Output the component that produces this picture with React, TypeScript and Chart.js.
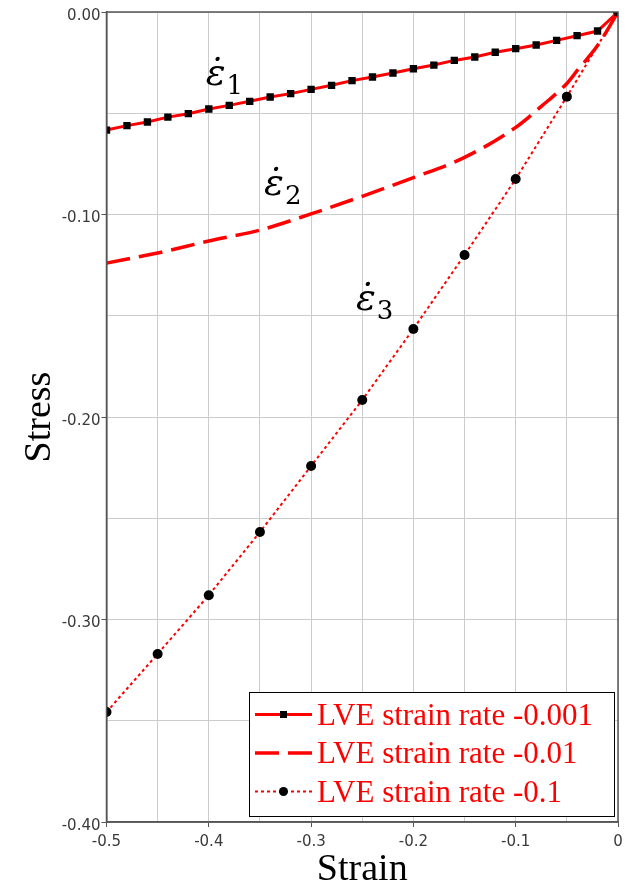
import React, { useEffect, useRef } from 'react';
import { Chart, registerables } from 'chart.js';

Chart.register(...registerables);

// LVE response, strain rate -0.001
const strainSlow = [
  -0.5, -0.48, -0.46, -0.44, -0.42, -0.4, -0.38, -0.36, -0.34, -0.32, -0.3, -0.28, -0.26,
  -0.24, -0.22, -0.2, -0.18, -0.16, -0.14, -0.12, -0.1, -0.08, -0.06, -0.04, -0.02, 0,
];
const stressSlow = [
  -0.0583, -0.0561, -0.0543, -0.0519, -0.0502, -0.0479, -0.0461, -0.0441, -0.042, -0.0403,
  -0.0382, -0.0362, -0.0339, -0.0321, -0.0301, -0.028, -0.0262, -0.0239, -0.0222, -0.0199,
  -0.0181, -0.0163, -0.014, -0.0117, -0.0094, 0,
];

// LVE response, strain rate -0.01
const strainMid = [-0.5, -0.45, -0.4, -0.35, -0.3, -0.25, -0.2, -0.15, -0.1, -0.075, -0.05, -0.04, -0.02, 0];
const stressMid = [
  -0.124, -0.119, -0.1131, -0.1077, -0.0997, -0.091, -0.0818, -0.0718, -0.057, -0.0466,
  -0.0353, -0.029, -0.0166, 0,
];

// LVE response, strain rate -0.1
const strainFast = [-0.5, -0.45, -0.4, -0.35, -0.3, -0.25, -0.2, -0.15, -0.1, -0.05, 0];
const stressFast = [-0.3457, -0.317, -0.288, -0.2568, -0.2242, -0.1916, -0.1565, -0.12, -0.0825, -0.0418, 0];

const seriesLabels = ['LVE strain rate -0.001', 'LVE strain rate -0.01', 'LVE strain rate -0.1'];

// Curve annotations: strain-rate symbols placed next to each curve
const rateSubscripts = ['1', '2', '3'];
const rateLabelStrain = [-0.403, -0.346, -0.2561];
const rateLabelStress = [-0.036, -0.0904, -0.1472];

const xTickStep = 0.05;
const yTickStep = 0.05;

const RED = '#ff0000';
const FRAME = '#555555';

const isMajor = (v: number) => Math.abs(Math.round(v * 10) - v * 10) < 1e-6;

const toPoints = (xs: number[], ys: number[]) => xs.map((x, i) => ({ x, y: ys[i] }));

const decorations = {
  id: 'decorations',
  afterDatasetsDraw(chart: any) {
    const { ctx, scales } = chart;
    const xs = scales.x;
    const ys = scales.y;
    ctx.save();
    ctx.fillStyle = '#000';
    ctx.textAlign = 'left';
    ctx.textBaseline = 'alphabetic';
    rateSubscripts.forEach((sub, i) => {
      const px = xs.getPixelForValue(rateLabelStrain[i]);
      const py = ys.getPixelForValue(rateLabelStress[i]);
      ctx.font = 'italic 37px "DejaVu Serif"';
      ctx.fillText('\u03B5\u0307', px, py);
      const w = ctx.measureText('\u03B5').width;
      ctx.font = '26px "DejaVu Serif"';
      ctx.fillText(sub, px + w + 1, py + 9);
    });
    ctx.restore();
  },
  afterDraw(chart: any) {
    const { ctx, chartArea } = chart;
    const { left, right, top, bottom } = chartArea;
    ctx.save();

    // plot frame
    ctx.strokeStyle = FRAME;
    ctx.lineWidth = 1.5;
    ctx.strokeRect(left, top, right - left, bottom - top);

    // axis titles
    ctx.fillStyle = '#000';
    ctx.font = '38px "Liberation Serif"';
    ctx.textAlign = 'center';
    ctx.textBaseline = 'alphabetic';
    ctx.fillText('Strain', (left + right) / 2, 880);
    ctx.save();
    ctx.translate(50, (top + bottom) / 2);
    ctx.rotate(-Math.PI / 2);
    ctx.fillText('Stress', 0, 0);
    ctx.restore();

    // clipped neighbouring tick label at the far left
    ctx.fillStyle = '#3a3a3a';
    ctx.font = '15px "DejaVu Sans"';
    ctx.textAlign = 'right';
    ctx.textBaseline = 'middle';
    ctx.fillText('0', 3.5, 839);

    // legend
    const bx = 249.5;
    const by = 692.5;
    const bw = 365;
    const bh = 124;
    ctx.fillStyle = '#fff';
    ctx.fillRect(bx, by, bw, bh);
    ctx.strokeStyle = '#000';
    ctx.lineWidth = 1;
    ctx.strokeRect(bx, by, bw, bh);
    const rowY = [714.5, 753, 791.5];
    const x0 = 255;
    const x1 = 312;
    chart.data.datasets.forEach((ds: any, i: number) => {
      const y = rowY[i];
      ctx.save();
      ctx.strokeStyle = ds.borderColor;
      ctx.lineWidth = ds.borderWidth;
      ctx.setLineDash(ds.borderDash || []);
      ctx.beginPath();
      ctx.moveTo(x0, y);
      ctx.lineTo(x1, y);
      ctx.stroke();
      ctx.restore();
      if (ds.pointRadius > 0) {
        ctx.fillStyle = ds.pointBackgroundColor;
        const cx = (x0 + x1) / 2;
        if (ds.pointStyle === 'rect') {
          const s = 7;
          ctx.fillRect(cx - s / 2, y - s / 2, s, s);
        } else {
          ctx.beginPath();
          ctx.arc(cx, y, 4.5, 0, Math.PI * 2);
          ctx.fill();
        }
      }
      ctx.fillStyle = RED;
      ctx.font = '31px "Liberation Serif"';
      ctx.textAlign = 'left';
      ctx.textBaseline = 'alphabetic';
      ctx.fillText(ds.label, 317, y + 10);
    });

    ctx.restore();
  },
};

export default function App() {
  const canvasRef = useRef<HTMLCanvasElement | null>(null);

  useEffect(() => {
    const canvas = canvasRef.current;
    if (!canvas) return;
    const chart = new Chart(canvas, {
      type: 'line',
      data: {
        datasets: [
          {
            label: seriesLabels[0],
            data: toPoints(strainSlow, stressSlow),
            borderColor: RED,
            borderWidth: 3,
            pointStyle: 'rect',
            pointRadius: 5.2,
            pointBorderWidth: 0,
            pointBackgroundColor: '#000',
            pointBorderColor: '#000',
            clip: 0,
          },
          {
            label: seriesLabels[1],
            data: toPoints(strainMid, stressMid),
            borderColor: RED,
            borderWidth: 3.5,
            borderDash: [24, 9],
            pointRadius: 0,
            cubicInterpolationMode: 'monotone',
            clip: 0,
          },
          {
            label: seriesLabels[2],
            data: toPoints(strainFast, stressFast),
            borderColor: RED,
            borderWidth: 2,
            borderDash: [3, 3],
            pointStyle: 'circle',
            pointRadius: 5,
            pointBorderWidth: 0,
            pointBackgroundColor: '#000',
            pointBorderColor: '#000',
            clip: 0,
          },
        ] as any,
      },
      options: {
        animation: false,
        responsive: false,
        devicePixelRatio: 1,
        layout: { padding: { top: 12, right: 15, left: 0, bottom: 0 } },
        plugins: { legend: { display: false }, tooltip: { enabled: false } },
        elements: { line: { tension: 0 } },
        scales: {
          x: {
            type: 'linear',
            min: -0.5,
            max: 0,
            afterFit: (s: any) => {
              s.height = 66;
            },
            ticks: {
              stepSize: xTickStep,
              autoSkip: false,
              maxRotation: 0,
              padding: 6,
              color: '#3a3a3a',
              font: { family: '"DejaVu Sans"', size: 15 },
              callback: (v: any) => {
                const n = Number(v);
                if (!isMajor(n)) return '';
                if (Math.abs(n) < 1e-9) return '0';
                return n.toFixed(1);
              },
            },
            grid: {
              color: '#cccccc',
              lineWidth: 1,
              tickLength: 5,
              tickColor: (c: any) => (c.tick && isMajor(c.tick.value) ? FRAME : 'rgba(0,0,0,0)'),
            },
            border: { display: true, color: FRAME, width: 1.5 },
          },
          y: {
            type: 'linear',
            min: -0.4,
            max: 0,
            afterFit: (s: any) => {
              s.width = 106.5;
            },
            ticks: {
              stepSize: yTickStep,
              autoSkip: false,
              padding: 1,
              labelOffset: 4,
              color: '#3a3a3a',
              font: { family: '"DejaVu Sans"', size: 15 },
              callback: (v: any) => {
                const n = Number(v);
                if (!isMajor(n)) return '';
                if (Math.abs(n) < 1e-9) return '0.00';
                return n.toFixed(2);
              },
            },
            grid: {
              color: '#cccccc',
              lineWidth: 1,
              tickLength: 5,
              tickColor: (c: any) => (c.tick && isMajor(c.tick.value) ? FRAME : 'rgba(0,0,0,0)'),
            },
            border: { display: true, color: FRAME, width: 1.5 },
          },
        },
      },
      plugins: [decorations],
    });
    return () => chart.destroy();
  }, []);

  return (
    <div style={{ position: 'relative', width: 633, height: 888, margin: -8, background: '#fff' }}>
      <canvas ref={canvasRef} width={633} height={888} style={{ display: 'block' }} />
    </div>
  );
}
